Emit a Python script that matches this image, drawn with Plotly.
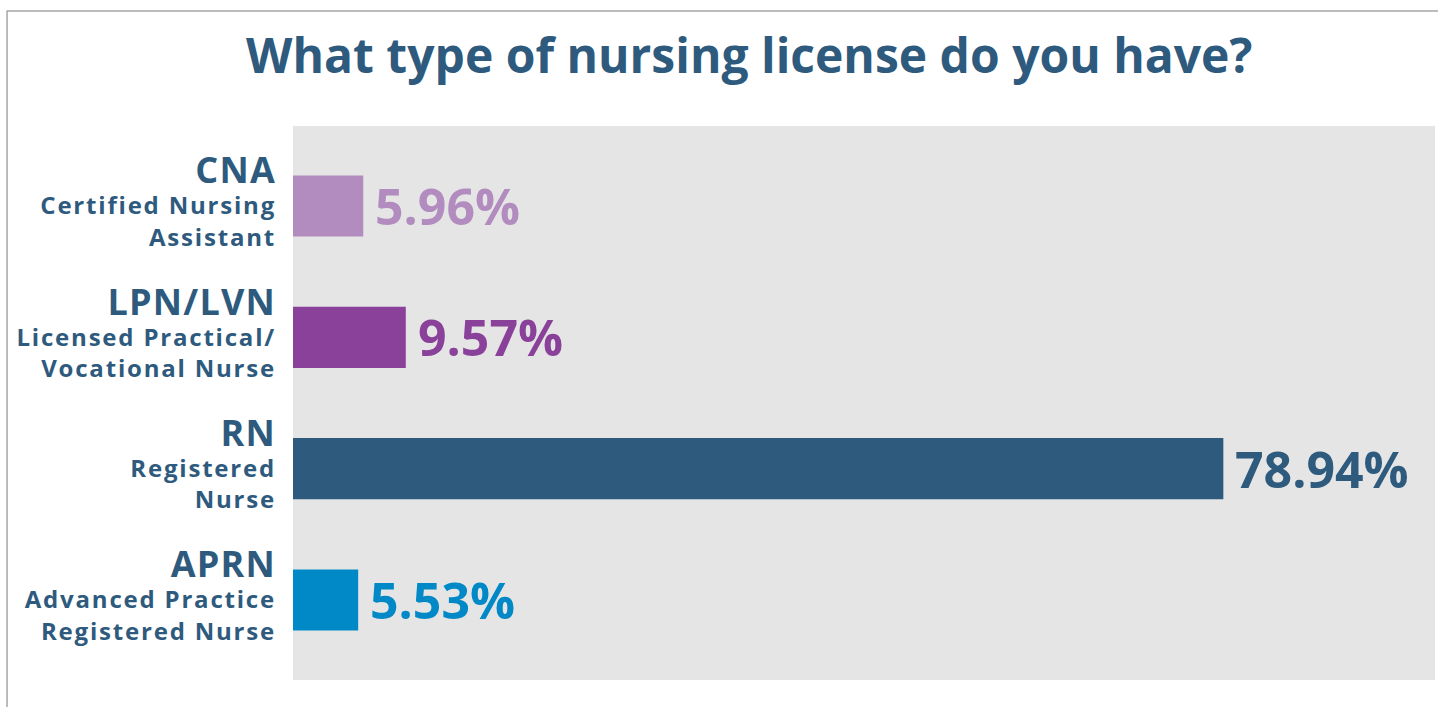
import plotly.graph_objects as go

# Survey results: share of respondents by nursing license type
codes = ["CNA", "LPN/LVN", "RN", "APRN"]
descriptions = [
    "Certified Nursing<br>Assistant",
    "Licensed Practical/<br>Vocational Nurse",
    "Registered<br>Nurse",
    "Advanced Practice<br>Registered Nurse",
]
shares = [5.96, 9.57, 78.94, 5.53]
bar_colors = ["#B28CBF", "#8A4199", "#2E5A7E", "#0089C6"]

TEXT = "#2E5A7E"
FONT = "Open Sans"

SPACED = "letter-spacing:1.8px"
tick_text = [
    f"<span style='font-size:36px;letter-spacing:1.2px'>{c}</span><br>"
    + "<br>".join(f"<span style='{SPACED}'>{part}</span>" for part in d.split("<br>"))
    for c, d in zip(codes, descriptions)
]

fig = go.Figure(
    go.Bar(
        x=shares,
        y=codes,
        orientation="h",
        marker=dict(color=bar_colors, line=dict(width=0)),
        width=0.465,
        hoverinfo="skip",
    )
)

# value labels next to each bar, coloured like the bar
for c, v, col in zip(codes, shares, bar_colors):
    fig.add_annotation(
        x=v, y=c, xref="x", yref="y",
        text=f"{v:.2f}%", showarrow=False,
        xanchor="left", yanchor="middle", xshift=10,
        font=dict(family=FONT, size=50, color=col, weight="bold"),
    )

# thin frame around the figure
fig.add_shape(
    type="rect", xref="paper", yref="paper",
    x0=-0.2504, x1=1.01, y0=-0.06, y1=1.2076,
    line=dict(color="#A6A6A6", width=1.5), layer="below",
)

fig.update_layout(
    width=1438, height=707,
    margin=dict(l=293, r=3, t=126, b=27),
    paper_bgcolor="white",
    plot_bgcolor="#E5E5E5",
    showlegend=False,
    title=dict(
        text="What type of nursing license do you have?",
        x=0.521, xref="container", xanchor="center",
        y=0.921, yref="container", yanchor="middle",
        font=dict(family=FONT, size=48, color=TEXT, weight="bold"),
    ),
    xaxis=dict(
        range=[0, 96.9], showgrid=False, zeroline=False,
        showticklabels=False, ticks="", fixedrange=True,
    ),
    yaxis=dict(
        categoryorder="array", categoryarray=codes,
        range=[3.61, -0.61], showgrid=False, zeroline=False,
        tickmode="array", tickvals=codes, ticktext=tick_text,
        tickfont=dict(family=FONT, size=24, color=TEXT, weight="bold"),
        ticks="", ticklabelstandoff=16, fixedrange=True,
    ),
)

fig.write_html("out.html")
